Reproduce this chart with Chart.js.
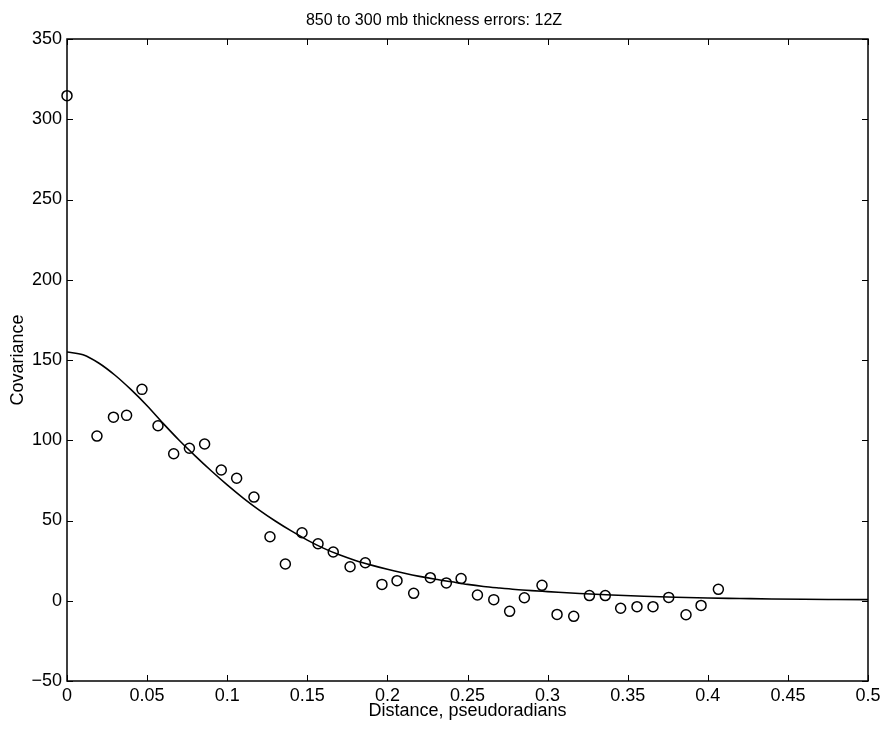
<!DOCTYPE html>
<html>
<head>
<meta charset="utf-8">
<script src="https://cdn.jsdelivr.net/npm/chart.js@4"></script>
<style>
  html, body { margin: 0; padding: 0; background: #ffffff; }
  #wrap { width: 886px; height: 732px; }
</style>
</head>
<body>
<div id="wrap"><canvas id="covChart" width="886" height="732"></canvas></div>
<script>
const distances = [0, 0.0187, 0.029, 0.0372, 0.0468, 0.0568, 0.0666, 0.0764, 0.0859, 0.0963,
  0.1059, 0.1167, 0.1267, 0.1363, 0.1467, 0.1567, 0.1662, 0.1767, 0.1862, 0.1966,
  0.206, 0.2164, 0.2268, 0.2368, 0.246, 0.2562, 0.2664, 0.2763, 0.2855, 0.2965,
  0.3059, 0.3163, 0.3261, 0.336, 0.3456, 0.3558, 0.3658, 0.3756, 0.3864, 0.3958, 0.4066];
const covariances = [314.7, 102.6, 114.4, 115.5, 131.7, 109, 91.6, 95, 97.7, 81.5,
  76.3, 64.6, 39.9, 22.9, 42.4, 35.5, 30.4, 21.2, 23.7, 10.2,
  12.5, 4.6, 14.4, 11.1, 13.8, 3.6, 0.7, -6.6, 1.9, 9.6,
  -8.5, -9.7, 3.2, 3.2, -4.7, -3.7, -3.7, 2.1, -8.7, -2.9, 7.1];

// fitted curve
const fitX = [0, 0.01, 0.02, 0.03, 0.04, 0.05, 0.06, 0.07, 0.08, 0.09,
  0.1, 0.11, 0.12, 0.13, 0.14, 0.15, 0.16, 0.17, 0.18, 0.19,
  0.2, 0.21, 0.22, 0.23, 0.24, 0.25, 0.26, 0.27, 0.28, 0.29,
  0.3, 0.32, 0.34, 0.36, 0.38, 0.4, 0.42, 0.44, 0.46, 0.48, 0.5];
const fitY = [155, 153.3, 148, 140.5, 131.5, 121.5, 110.5, 100, 90.3, 81,
  72.2, 64, 56.5, 49.7, 43.5, 37.8, 32.8, 28.6, 25.1, 22.2,
  19.6, 17.3, 15.2, 13.4, 11.8, 10.2, 8.9, 7.9, 7.0, 6.3,
  5.7, 4.5, 3.6, 2.8, 2.2, 1.7, 1.4, 1.1, 0.9, 0.8, 0.7];

const xTicks = [0, 0.05, 0.1, 0.15, 0.2, 0.25, 0.3, 0.35, 0.4, 0.45, 0.5];
const yTicks = [-50, 0, 50, 100, 150, 200, 250, 300, 350];

const fontFamily = '"Liberation Sans", Arial, Helvetica, sans-serif';

const frameBox = {
  id: 'frameBox',
  afterDraw: (chart) => {
    const { ctx, chartArea, scales } = chart;
    const { left, right, top, bottom } = chartArea;
    const len = 6;
    ctx.save();
    ctx.strokeStyle = '#000000';
    ctx.lineWidth = 1.5;
    ctx.strokeRect(left, top, right - left, bottom - top);
    ctx.lineWidth = 1;
    ctx.beginPath();
    xTicks.forEach((value) => {
      const px = Math.round(scales.x.getPixelForValue(value)) + 0.5;
      ctx.moveTo(px, bottom);
      ctx.lineTo(px, bottom - len);
      ctx.moveTo(px, top);
      ctx.lineTo(px, top + len);
    });
    yTicks.forEach((value) => {
      const py = Math.round(scales.y.getPixelForValue(value)) + 0.5;
      ctx.moveTo(left, py);
      ctx.lineTo(left + len, py);
      ctx.moveTo(right, py);
      ctx.lineTo(right - len, py);
    });
    ctx.stroke();
    ctx.restore();
  },
};

document.addEventListener('DOMContentLoaded', () => {
  if (typeof Chart === 'undefined') {
    return;
  }

  const el = document.getElementById('covChart');

  new Chart(el.getContext('2d'), {
    type: 'scatter',
    data: {
      datasets: [
        {
          type: 'line',
          data: fitX.map((x, i) => ({ x, y: fitY[i] })),
          borderColor: '#000000',
          borderWidth: 1.6,
          pointRadius: 0,
          fill: false,
          cubicInterpolationMode: 'monotone',
        },
        {
          data: distances.map((x, i) => ({ x, y: covariances[i] })),
          pointStyle: 'circle',
          pointRadius: 5,
          pointBorderWidth: 1.5,
          pointBorderColor: '#000000',
          pointBackgroundColor: 'rgba(0, 0, 0, 0)',
          clip: false,
        },
      ],
    },
    options: {
      responsive: false,
      animation: false,
      devicePixelRatio: 1,
      layout: { padding: { left: 0, right: 18, top: 0, bottom: 0 } },
      plugins: {
        legend: { display: false },
        tooltip: { enabled: false },
        title: {
          display: true,
          text: '850 to 300 mb thickness errors: 12Z',
          color: '#000000',
          font: { family: fontFamily, size: 16, weight: 'normal' },
          padding: { top: 11, bottom: 8.8 },
        },
      },
      scales: {
        x: {
          type: 'linear',
          min: 0,
          max: 0.5,
          afterFit: (scale) => { scale.height = 51; },
          afterBuildTicks: (scale) => {
            scale.ticks = xTicks.map((value) => ({ value }));
          },
          grid: { display: false, drawTicks: false },
          border: { display: false },
          ticks: {
            color: '#000000',
            padding: 4,
            maxRotation: 0,
            font: { family: fontFamily, size: 18 },
            callback: (value) => `${Math.round(value * 100) / 100}`,
          },
          title: {
            display: true,
            text: 'Distance, pseudoradians',
            color: '#000000',
            font: { family: fontFamily, size: 18 },
            padding: { top: 0, bottom: 10 },
          },
        },
        y: {
          type: 'linear',
          min: -50,
          max: 350,
          afterFit: (scale) => { scale.width = 67; },
          afterBuildTicks: (scale) => {
            scale.ticks = yTicks.map((value) => ({ value }));
          },
          grid: { display: false, drawTicks: false },
          border: { display: false },
          ticks: {
            color: '#000000',
            padding: 5,
            font: { family: fontFamily, size: 18 },
            callback: (value) => value.toString().replace('-', '\u2212'),
          },
          title: {
            display: true,
            text: 'Covariance',
            color: '#000000',
            font: { family: fontFamily, size: 18 },
            padding: { top: 7, bottom: 0 },
          },
        },
      },
    },
    plugins: [frameBox],
  });
});
</script>
</body>
</html>
